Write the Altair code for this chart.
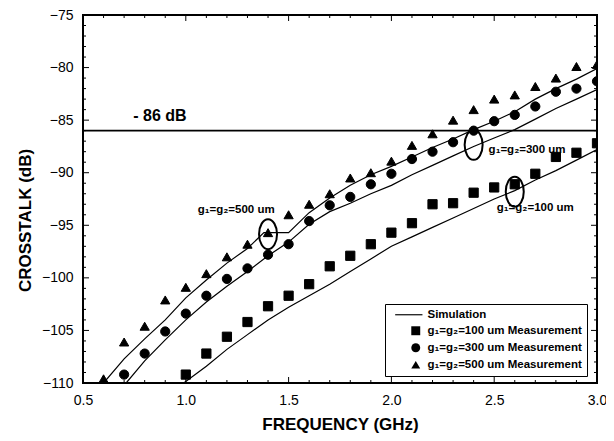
import altair as alt
import pandas as pd

# ---------------- data ----------------
meas_500_f = [0.6, 0.7, 0.8, 0.9, 1.0, 1.1, 1.2, 1.3, 1.4, 1.5, 1.6, 1.7, 1.8,
              1.9, 2.0, 2.1, 2.2, 2.3, 2.4, 2.5, 2.6, 2.7, 2.8, 2.9, 3.0]
meas_500_v = [-109.6, -106.1, -104.6, -102.1, -100.9, -99.6, -98.0, -96.8, -95.7,
              -94.0, -93.0, -92.0, -90.5, -90.0, -88.9, -87.4, -86.3, -85.0,
              -84.0, -83.0, -82.6, -81.8, -81.0, -79.9, -79.7]

meas_300_f = [0.7, 0.8, 0.9, 1.0, 1.1, 1.2, 1.3, 1.4, 1.5, 1.6, 1.7, 1.8,
              1.9, 2.0, 2.1, 2.2, 2.3, 2.4, 2.5, 2.6, 2.7, 2.8, 2.9, 3.0]
meas_300_v = [-109.2, -107.2, -105.1, -103.4, -101.7, -100.1, -99.1, -97.8,
              -96.8, -94.6, -93.1, -92.3, -91.1, -90.1, -88.7, -88.0, -87.1,
              -86.0, -85.1, -84.5, -83.7, -82.3, -82.0, -81.3]

meas_100_f = [1.0, 1.1, 1.2, 1.3, 1.4, 1.5, 1.6, 1.7, 1.8, 1.9, 2.0, 2.1,
              2.2, 2.3, 2.4, 2.5, 2.6, 2.7, 2.8, 2.9, 3.0]
meas_100_v = [-109.2, -107.2, -105.6, -104.2, -102.7, -101.7, -100.6, -98.9,
              -97.9, -96.8, -95.7, -94.8, -93.0, -92.9, -91.9, -91.4, -91.1,
              -90.1, -88.5, -88.1, -87.2]

sim_500_f = [0.6, 0.7, 0.8, 0.9, 1.0, 1.1, 1.2, 1.3, 1.38, 1.5, 1.6, 1.7, 1.8,
             1.9, 2.0, 2.1, 2.2, 2.3, 2.4, 2.5, 2.6, 2.7, 2.8, 2.9, 3.0]
sim_500_v = [-110.0, -107.7, -105.8, -104.0, -101.9, -100.2, -98.6, -97.2, -95.7,
             -95.7, -93.8, -92.4, -91.2, -90.2, -89.4, -88.5, -87.6, -86.8,
             -85.9, -85.1, -84.2, -83.0, -82.0, -81.1, -80.1]

sim_300_f = [0.71, 0.8, 0.9, 1.0, 1.1, 1.2, 1.3, 1.4, 1.5, 1.6, 1.7, 1.8,
             1.9, 2.0, 2.1, 2.2, 2.3, 2.4, 2.5, 2.6, 2.7, 2.8, 2.9, 3.0]
sim_300_v = [-110.0, -107.9, -105.9, -104.0, -102.3, -100.8, -99.4, -97.9,
             -96.6, -94.9, -93.7, -92.9, -92.0, -91.2, -90.2, -89.3, -88.4,
             -87.5, -86.7, -85.9, -84.9, -83.9, -83.0, -82.1]

sim_100_f = [0.99, 1.1, 1.2, 1.3, 1.4, 1.5, 1.6, 1.7, 1.8, 1.9, 2.0, 2.1,
             2.2, 2.3, 2.4, 2.5, 2.6, 2.7, 2.8, 2.9, 3.0]
sim_100_v = [-110.0, -108.4, -106.8, -105.4, -104.0, -102.8, -101.7, -100.6,
             -99.4, -98.2, -97.0, -96.1, -95.2, -94.3, -93.4, -92.5, -91.7,
             -90.7, -89.8, -88.8, -87.8]

series_names = ["Simulation",
                "g\u2081=g\u2082=100 um Measurement",
                "g\u2081=g\u2082=300 um Measurement",
                "g\u2081=g\u2082=500 um Measurement"]

limit_db = [-86]
limit_label = ["- 86 dB"]
limit_label_f = [0.874]
limit_label_v = [-84.6]

gap_labels = ["g\u2081=g\u2082=500 um", "g\u2081=g\u2082=300 um", "g\u2081=g\u2082=100 um"]
gap_label_f = [1.245, 2.66, 2.70]
gap_label_v = [-93.5, -87.8, -93.4]

ellipse_f = [1.40, 2.40, 2.60]
ellipse_v = [-95.85, -87.35, -91.8]

x_major = [0.5, 1.0, 1.5, 2.0, 2.5, 3.0]
x_minor = [0.6, 0.7, 0.8, 0.9, 1.1, 1.2, 1.3, 1.4, 1.6, 1.7, 1.8, 1.9,
           2.1, 2.2, 2.3, 2.4, 2.6, 2.7, 2.8, 2.9]
y_major = [-110, -105, -100, -95, -90, -85, -80, -75]
y_minor = [v for v in range(-109, -75) if v % 5 != 0]

# ---------------- tables ----------------
meas = pd.concat([
    pd.DataFrame({"f": meas_100_f, "v": meas_100_v, "s": series_names[1]}),
    pd.DataFrame({"f": meas_300_f, "v": meas_300_v, "s": series_names[2]}),
    pd.DataFrame({"f": meas_500_f, "v": meas_500_v, "s": series_names[3]}),
])
sim = pd.concat([
    pd.DataFrame({"f": sim_100_f, "v": sim_100_v, "g": "100"}),
    pd.DataFrame({"f": sim_300_f, "v": sim_300_v, "g": "300"}),
    pd.DataFrame({"f": sim_500_f, "v": sim_500_v, "g": "500"}),
])

W, H = 514, 368
FONT = "Liberation Sans"

xs = alt.Scale(domain=[0.5, 3.0], nice=False, zero=False)
ys = alt.Scale(domain=[-110, -75], nice=False, zero=False)

x_enc = alt.X("f:Q", scale=xs, axis=alt.Axis(
    values=x_major, format=".1f", grid=False, ticks=False, domain=False,
    labelFontSize=14, labelFont=FONT, labelColor="black", labelPadding=10,
    labelFlush=False,
    title="FREQUENCY (GHz)", titleFont=FONT, titleFontSize=17,
    titleFontWeight="bold", titleColor="black", titleBaseline="middle",
    titleY=41))
y_enc = alt.Y("v:Q", scale=ys, axis=alt.Axis(
    values=y_major, grid=False, ticks=False, domain=False,
    labelFontSize=14, labelFont=FONT, labelColor="black", labelPadding=10,
    labelFlush=False,
    title="CROSSTALK (dB)", titleFont=FONT, titleFontSize=17,
    titleFontWeight="bold", titleColor="black", titleBaseline="middle",
    titleX=-58, titleY=205, titleAlign="center"))

limit = alt.Chart(pd.DataFrame({"v": limit_db})).mark_rule(
    color="black", strokeWidth=1.6).encode(y=alt.Y("v:Q", scale=ys))

lines = alt.Chart(sim).mark_line(color="black", strokeWidth=1.2, clip=True).encode(
    x=x_enc, y=y_enc, detail="g:N")

# thin filled bar used as the "line" legend symbol for Simulation
line_path = "M -4.6 -0.13 L 1.5 -0.13 L 1.5 0.13 L -4.6 0.13 Z"
points = alt.Chart(meas).mark_point(
    filled=True, color="black", stroke="black", strokeWidth=1, size=85,
    opacity=1, clip=True).encode(
    x=alt.X("f:Q", scale=xs),
    y=alt.Y("v:Q", scale=ys),
    shape=alt.Shape("s:N", scale=alt.Scale(
        domain=series_names,
        range=[line_path, "square", "circle", "triangle-up"]),
        legend=alt.Legend(
            orient="none", legendX=302, legendY=289, title=None,
            strokeColor="black", fillColor="white", padding=5,
            labelFont=FONT, labelFontWeight="bold", labelFontSize=11.5,
            labelColor="black", symbolSize=80, symbolOffset=20,
            symbolStrokeColor="black", symbolFillColor="black",
            symbolStrokeWidth=1, rowPadding=3, labelOffset=6)),
)

ellipses = alt.Chart(pd.DataFrame({"f": ellipse_f, "v": ellipse_v})).mark_point(
    shape="M 0.6 0 A 0.6 1 0 1 1 -0.6 0 A 0.6 1 0 1 1 0.6 0 Z",
    filled=False, stroke="black", strokeWidth=2, size=900, opacity=1).encode(
    x=alt.X("f:Q", scale=xs), y=alt.Y("v:Q", scale=ys))

limit_text = alt.Chart(pd.DataFrame({"f": limit_label_f, "v": limit_label_v,
                                     "t": limit_label})).mark_text(
    font=FONT, fontSize=16, fontWeight="bold", color="black",
    align="center", baseline="middle").encode(
    x=alt.X("f:Q", scale=xs), y=alt.Y("v:Q", scale=ys), text="t:N")

gap_text = alt.Chart(pd.DataFrame({"f": gap_label_f, "v": gap_label_v,
                                   "t": gap_labels})).mark_text(
    font=FONT, fontSize=11.5, fontWeight="bold", color="black",
    align="center", baseline="middle").encode(
    x=alt.X("f:Q", scale=xs), y=alt.Y("v:Q", scale=ys), text="t:N")


def xticks(vals, length):
    d = pd.DataFrame({"f": vals})
    b = alt.Chart(d).mark_rule(color="black", strokeWidth=1).encode(
        x=alt.X("f:Q", scale=xs), y=alt.value(H), y2=alt.value(H - length))
    t = alt.Chart(d).mark_rule(color="black", strokeWidth=1).encode(
        x=alt.X("f:Q", scale=xs), y=alt.value(0), y2=alt.value(length))
    return [b, t]


def yticks(vals, length):
    d = pd.DataFrame({"v": vals})
    l = alt.Chart(d).mark_rule(color="black", strokeWidth=1).encode(
        y=alt.Y("v:Q", scale=ys), x=alt.value(0), x2=alt.value(length))
    r = alt.Chart(d).mark_rule(color="black", strokeWidth=1).encode(
        y=alt.Y("v:Q", scale=ys), x=alt.value(W), x2=alt.value(W - length))
    return [l, r]


tick_layers = xticks(x_major, 6) + xticks(x_minor, 3) + \
    yticks(y_major, 6) + yticks(y_minor, 3)

chart = alt.layer(
    lines, limit, *tick_layers, ellipses, points, limit_text, gap_text
).properties(
    width=W, height=H,
    autosize=alt.AutoSizeParams(type="none"),
    padding={"left": 75, "top": 7, "right": 9, "bottom": 52},
    background="white",
).configure_view(stroke="black", strokeWidth=2)

chart.save("out.html", embed_options={"renderer": "svg", "actions": False})
